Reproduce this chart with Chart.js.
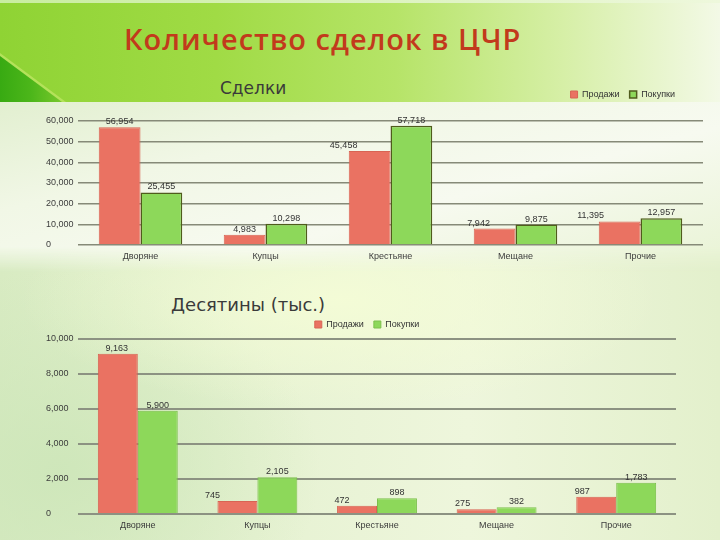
<!DOCTYPE html>
<html><head><meta charset="utf-8">
<script src="https://cdn.jsdelivr.net/npm/chart.js@4.4.1/dist/chart.umd.min.js"></script>
<style>
html,body{margin:0;padding:0}
body{width:720px;height:540px;position:relative;overflow:hidden;
background:
 radial-gradient(ellipse 320px 110px at 340px 300px, rgba(244,252,214,0.95), rgba(244,252,214,0) 100%),
 radial-gradient(ellipse 260px 200px at 60px 470px, rgba(205,230,185,0.9), rgba(205,230,185,0) 100%),
 linear-gradient(to right, #d8ebc2 0%, #e6f2d2 35%, #eef6dc 65%, #e3f0cc 100%);}
#hdr{position:absolute;left:0;top:0;width:720px;height:102px;
 background:linear-gradient(to right, #8fd334 0%, #a0db45 30%, #b6e468 55%, #d6efa6 78%, #f3f9e6 100%);}
#hdrline{position:absolute;left:0;top:0;width:720px;height:3px;background:linear-gradient(to right,#c8eda0,#eef8dc);}
#cornerEdge{position:absolute;left:0;top:53px;width:66px;height:49px;
 clip-path:polygon(0 0, 100% 100%, 0 100%);background:#b4e25a;}
#corner{position:absolute;left:0;top:56px;width:62px;height:46px;
 clip-path:polygon(0 0, 100% 100%, 0 100%);
 background:linear-gradient(to right, #38aa12 0%, #4cb61a 50%, #78c82c 100%);}
#panel1{position:absolute;left:0;top:102px;width:720px;height:170px;
 background:linear-gradient(165deg, #e2efd0 0%, #f1f7e6 30%, #f7faf0 60%, #e8f3d4 100%);
 -webkit-mask-image:linear-gradient(to bottom, #000 85%, transparent 100%);mask-image:linear-gradient(to bottom, #000 85%, transparent 100%);}
#title{position:absolute;left:124px;top:19px;font:600 29px "Open Sans";letter-spacing:1px;color:#c23a1c;white-space:nowrap;line-height:40px}
.ct{position:absolute;font:17px "DejaVu Sans";color:#3a3a3a;white-space:nowrap;line-height:20px}
#t1{left:220px;top:78px}
#t2{left:171px;top:295px;font-size:18px}
.box{position:absolute;left:0;width:720px}
#c1box{top:80px;height:190px}
#c2box{top:310px;height:230px}
</style></head>
<body>
<div id="hdr"></div><div id="hdrline"></div><div id="cornerEdge"></div><div id="corner"></div>
<div id="panel1"></div>
<div id="title">Количество сделок в ЦЧР</div>
<div class="ct" id="t1">Сделки</div>
<div class="ct" id="t2">Десятины (тыс.)</div>
<div class="box" id="c1box"><canvas id="c1"></canvas></div>
<div class="box" id="c2box"><canvas id="c2"></canvas></div>
<script>
// ---- data ----
const categories = ['Дворяне', 'Купцы', 'Крестьяне', 'Мещане', 'Прочие'];
const seriesNames = ['Продажи', 'Покупки'];
const dealsSales = [56954, 4983, 45458, 7942, 11395];
const dealsPurchases = [25455, 10298, 57718, 9875, 12957];
const landSales = [9163, 745, 472, 275, 987];
const landPurchases = [5900, 2105, 898, 382, 1783];
const dealsTicks = [0, 10000, 20000, 30000, 40000, 50000, 60000];
const landTicks = [0, 2000, 4000, 6000, 8000, 10000];

// ---- styling ----
const fmt = v => v.toLocaleString('en-US');
Chart.defaults.font.family = '"Liberation Sans", Arial, sans-serif';
Chart.defaults.color = '#3c3c3c';

const valueLabels = {
  id: 'valueLabels',
  afterDatasetsDraw(chart, args, opts) {
    const ctx = chart.ctx;
    ctx.save();
    ctx.font = '9px "Liberation Sans", Arial, sans-serif';
    ctx.fillStyle = '#333';
    ctx.textAlign = 'center';
    ctx.textBaseline = 'bottom';
    chart.data.datasets.forEach((ds, di) => {
      const meta = chart.getDatasetMeta(di);
      meta.data.forEach((bar, i) => {
        const sh = (opts.shift && opts.shift[di] && opts.shift[di][i]) || 0;
        ctx.fillText(fmt(ds.data[i]), bar.x + sh, bar.y - 1);
      });
    });
    ctx.restore();
  }
};

const legendTweak = {
  id: 'legendTweak',
  beforeLayout(chart, args, opts) {
    const lg = chart.legend;
    if (lg && !lg._tweaked) {
      const f = lg.fit;
      lg.fit = function () { f.call(this); this.height += (opts.extraHeight || 0); };
      lg._tweaked = true;
    }
  },
  afterLayout(chart, args, opts) {
    const lg = chart.legend;
    if (lg && opts.dx) { lg.left += opts.dx; lg.right += opts.dx; }
  }
};

function makeChart(id, sales, purchases, ticks, cfg) {
  return new Chart(document.getElementById(id), {
    type: 'bar',
    data: {
      labels: categories,
      datasets: [
        { label: seriesNames[0], data: sales, backgroundColor: '#ea7262',
          borderColor: cfg.redBorder, borderWidth: 1 },
        { label: seriesNames[1], data: purchases, backgroundColor: '#8dd85a',
          borderColor: cfg.greenBorder, borderWidth: cfg.greenBorderWidth }
      ]
    },
    options: {
      responsive: true, maintainAspectRatio: false, animation: false,
      categoryPercentage: 0.668, barPercentage: 1,
      layout: { padding: { left: 46, right: cfg.padRight, top: 0, bottom: 0 } },
      plugins: {
        tooltip: { enabled: false },
        title: { display: false },
        legend: {
          display: true, position: 'top', align: cfg.legendAlign,
          labels: { boxWidth: 7, boxHeight: 7, padding: 10, color: '#333',
                    font: { size: 9 } }
        },
        legendTweak: { extraHeight: cfg.extraHeight, dx: cfg.legendDx },
        valueLabels: { shift: cfg.shift }
      },
      scales: {
        x: {
          grid: { display: false, drawTicks: false }, border: { display: false },
          ticks: { font: { size: 9 }, color: '#3c3c3c', padding: 6, maxRotation: 0 },
          afterFit(s) { s.height = cfg.xHeight; }
        },
        y: {
          min: ticks[0], max: ticks[ticks.length - 1],
          afterBuildTicks(s) { s.ticks = ticks.map(v => ({ value: v })); },
          grid: { color: cfg.gridColor, lineWidth: cfg.gridWidth, drawTicks: false },
          border: { display: false },
          ticks: { font: { size: 9 }, color: '#3c3c3c', crossAlign: 'far', padding: 6,
                   callback: v => fmt(v) },
          afterFit(s) { s.width = 32; }
        }
      }
    },
    plugins: [valueLabels, legendTweak]
  });
}

makeChart('c1', dealsSales, dealsPurchases, dealsTicks, {
  redBorder: '#d86454', greenBorder: '#4f5c1c', greenBorderWidth: 1.5,
  padRight: 17, legendAlign: 'end', extraHeight: 12, legendDx: -18, xHeight: 25,
  gridColor: '#868a78', gridWidth: 1.5,
  shift: [[0, 0, -26, -16, -29], [0, 0, 0, 0, 0]]
});
makeChart('c2', landSales, landPurchases, landTicks, {
  redBorder: '#d86454', greenBorder: '#7cc04c', greenBorderWidth: 1,
  padRight: 44, legendAlign: 'center', extraHeight: 0, legendDx: 6, xHeight: 26,
  gridColor: '#8c9282', gridWidth: 2,
  shift: [[-1, -25, -15, -14, -14], [0, 0, 0, 0, 0]]
});
</script>
</body></html>
